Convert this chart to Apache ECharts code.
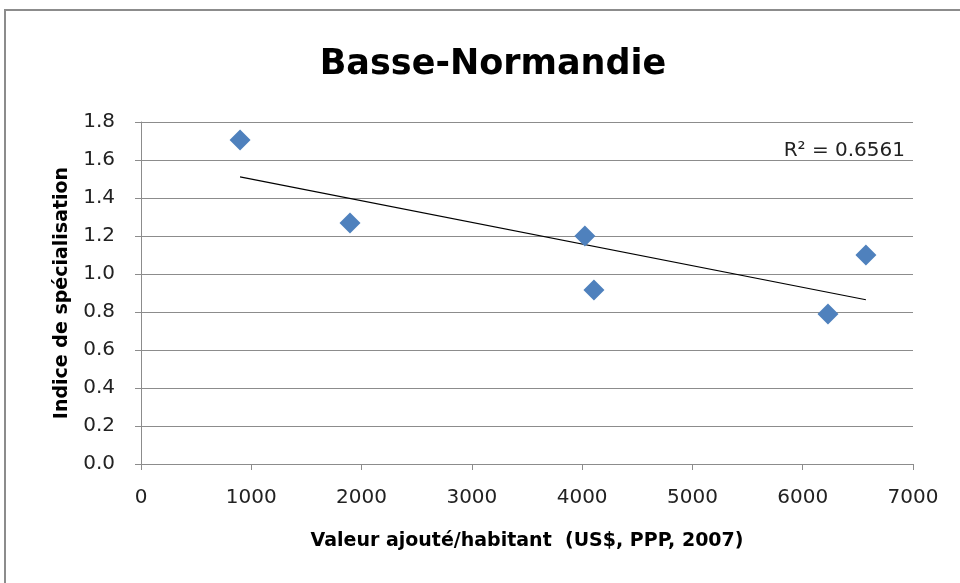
<!DOCTYPE html>
<html>
<head>
<meta charset="utf-8">
<script src="https://cdn.jsdelivr.net/npm/echarts@6/dist/echarts.min.js"></script>
<style>
  html, body { margin: 0; padding: 0; background: #fff; }
  #scatterChart { width: 960px; height: 583px; }
</style>
</head>
<body>
<div id="scatterChart"></div>
<script>
// valeurs
const valeurAjoutee = [898, 1895, 4025, 4107, 6229, 6573]
const indiceSpec = [1.705, 1.268, 1.2, 0.916, 0.789, 1.1]
const xTicks = [0, 1000, 7000]
const yTicks = [0, 0.2, 1.8]
const r2Label = 'R² = 0.6561'

// droite de tendance (moindres carrés) calculée à partir des points
function trend(xs, ys) {
  const n = xs.length
  const mx = xs.reduce((a, b) => a + b, 0) / n
  const my = ys.reduce((a, b) => a + b, 0) / n
  let sxy = 0
  let sxx = 0
  for (let i = 0; i < n; i++) {
    sxy += (xs[i] - mx) * (ys[i] - my)
    sxx += (xs[i] - mx) * (xs[i] - mx)
  }
  const b = sxy / sxx
  const a = my - b * mx
  const x0 = Math.min(...xs)
  const x1 = Math.max(...xs)
  return [[x0, a + b * x0], [x1, a + b * x1]]
}

const points = valeurAjoutee.map((v, i) => [v, indiceSpec[i]])
const trendLine = trend(valeurAjoutee, indiceSpec)

const chart = echarts.init(document.getElementById('scatterChart'))
const font = "'DejaVu Sans', sans-serif"
chart.setOption({
  animation: false,
  textStyle: { fontFamily: font },
  title: {
    text: 'Basse-Normandie',
    left: 488,
    textAlign: 'center',
    top: 42,
    textStyle: {
      fontFamily: font,
      fontSize: 35,
      fontWeight: 'bold',
      color: '#000'
    }
  },
  graphic: [
    {
      type: 'rect',
      shape: { x: 5, y: 10, width: 1000, height: 1000 },
      style: { fill: 'none', stroke: '#8c8c8c', lineWidth: 2 },
      silent: true
    },
    {
      type: 'text',
      right: 55,
      top: 141,
      style: {
        text: r2Label,
        font: "20px 'DejaVu Sans', sans-serif",
        fill: '#222'
      }
    }
  ],
  grid: {
    left: 141,
    right: 47,
    top: 122,
    bottom: 119
  },
  xAxis: {
    type: 'value',
    min: xTicks[0],
    max: xTicks[2],
    interval: xTicks[1],
    name: 'Valeur ajouté/habitant  (US$, PPP, 2007)',
    nameLocation: 'middle',
    nameGap: 68,
    nameTextStyle: {
      fontFamily: font,
      fontSize: 19,
      fontWeight: 'bold',
      color: '#000'
    },
    axisLine: { show: true, onZero: false, lineStyle: { color: '#8c8c8c', width: 1 } },
    axisTick: { show: true, length: 6, lineStyle: { color: '#8c8c8c' } },
    axisLabel: {
      fontSize: 20,
      color: '#222',
      margin: 24,
      formatter: (v) => String(v)
    },
    splitLine: { show: false }
  },
  yAxis: {
    type: 'value',
    min: yTicks[0],
    max: yTicks[2],
    interval: yTicks[1],
    name: 'Indice de spécialisation',
    nameLocation: 'middle',
    nameGap: 69,
    nameTextStyle: {
      fontFamily: font,
      fontSize: 19,
      fontWeight: 'bold',
      color: '#000'
    },
    axisLine: { show: true, lineStyle: { color: '#8c8c8c', width: 1 } },
    axisTick: { show: true, length: 6, lineStyle: { color: '#8c8c8c' } },
    axisLabel: {
      fontSize: 20,
      color: '#222',
      margin: 26,
      formatter: (v) => v.toFixed(1)
    },
    splitLine: { show: true, lineStyle: { color: '#8c8c8c', width: 1 } }
  },
  series: [
    {
      name: 'trend',
      type: 'line',
      data: trendLine,
      symbol: 'none',
      lineStyle: { color: '#000', width: 1.2 },
      silent: true,
      z: 2
    },
    {
      name: 'points',
      type: 'scatter',
      data: points,
      symbol: 'diamond',
      symbolSize: [21, 21],
      itemStyle: { color: '#4f81bd', opacity: 1 },
      z: 3
    }
  ]
})
</script>
</body>
</html>
